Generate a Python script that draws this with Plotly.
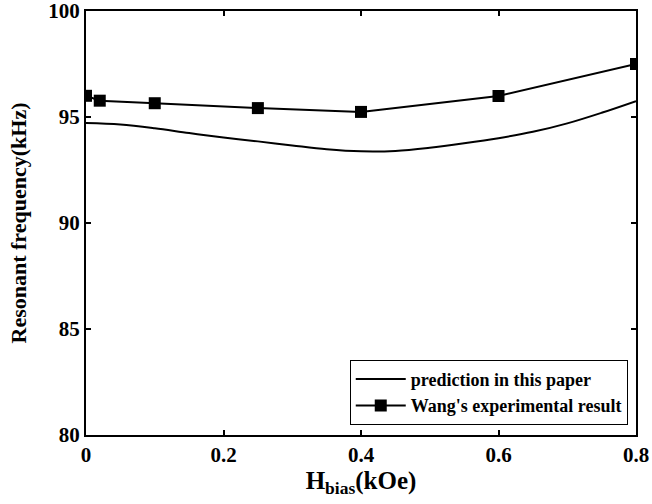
import plotly.graph_objects as go

# prediction curve
pred_x = [0, 0.05, 0.1, 0.15, 0.2, 0.25, 0.3, 0.35, 0.4, 0.45, 0.5, 0.55, 0.6, 0.65, 0.7, 0.75, 0.8]
pred_y = [94.72, 94.65, 94.47, 94.24, 94.03, 93.85, 93.66, 93.48, 93.38, 93.40, 93.55, 93.76, 94.0, 94.3, 94.7, 95.2, 95.75]

# experimental result
exp_x = [0, 0.02, 0.1, 0.25, 0.4, 0.6, 0.8]
exp_y = [96.0, 95.77, 95.65, 95.42, 95.24, 95.99, 97.5]

x_ticks = [0, 0.2, 0.4, 0.6, 0.8]
x_ticklabels = ["0", "0.2", "0.4", "0.6", "0.8"]
y_ticks = [80, 85, 90, 95, 100]
y_ticklabels = ["80", "85", "90", "95", "100"]

font_family = "Liberation Serif"

fig = go.Figure()
fig.add_trace(go.Scatter(
    x=pred_x, y=pred_y, mode="lines", name="prediction in this paper",
    line=dict(color="black", width=2, shape="spline"),
))
fig.add_trace(go.Scatter(
    x=exp_x, y=exp_y, mode="lines+markers", name="Wang's experimental result",
    line=dict(color="black", width=2),
    marker=dict(symbol="square", size=12, color="black"),
))

axis_common = dict(
    showline=True, linecolor="black", linewidth=2, mirror="ticks",
    ticks="inside", ticklen=5, tickwidth=1.5, tickcolor="black",
    showgrid=False, zeroline=False, automargin=False,
    ticklabeloverflow="allow",
    tickfont=dict(family=font_family, size=21, color="black", weight="bold"),
)

fig.update_layout(
    width=652, height=504,
    margin=dict(l=86, r=16, t=11, b=69),
    plot_bgcolor="white", paper_bgcolor="white",
    font=dict(family=font_family, color="black", weight="bold"),
    xaxis=dict(range=[0, 0.8], tickvals=x_ticks, ticktext=x_ticklabels,
               title=dict(text="H<sub>bias</sub>(kOe)", font=dict(family=font_family, size=25, weight="bold"), standoff=2),
               **axis_common),
    yaxis=dict(range=[80, 100], tickvals=y_ticks, ticktext=y_ticklabels,
               title=dict(text="Resonant frequency(kHz)", font=dict(family=font_family, size=22, weight="bold"), standoff=16),
               **axis_common),
    legend=dict(x=0.985, y=0.024, xanchor="right", yanchor="bottom",
                bordercolor="black", borderwidth=1, bgcolor="white",
                font=dict(family=font_family, size=18, color="black", weight="bold"),
                tracegroupgap=0, itemwidth=50),
    showlegend=True,
)

fig.write_html("out.html")
